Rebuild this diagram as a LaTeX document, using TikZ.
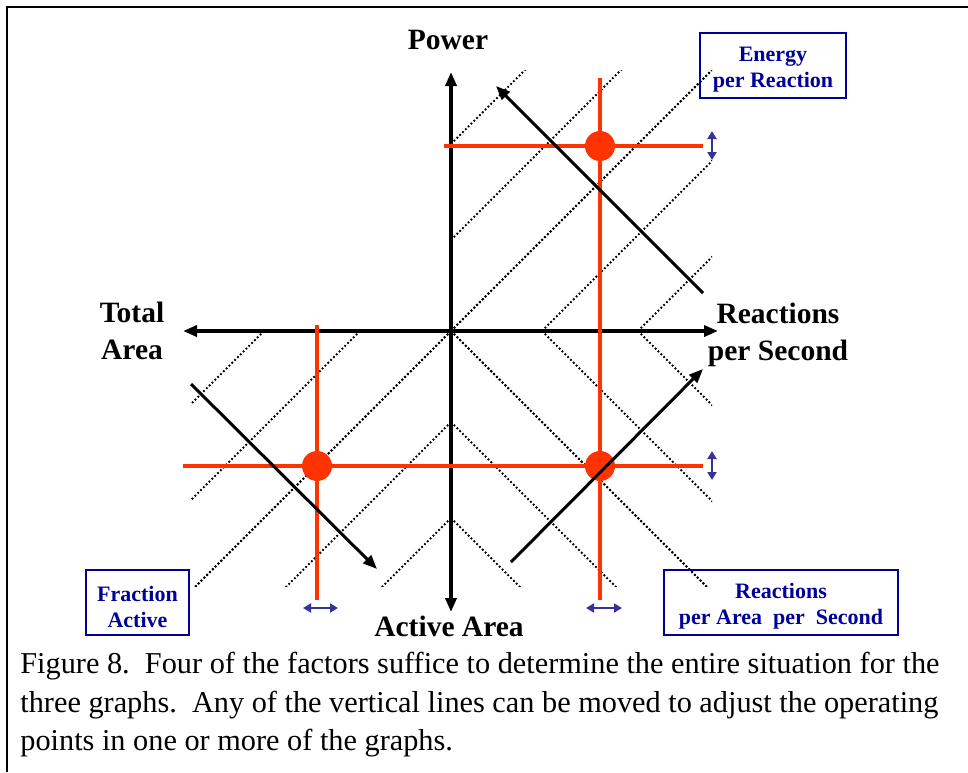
\documentclass[tikz,border=0pt]{standalone}
\usepackage{fontspec}
\setmainfont{Liberation Serif}
\usetikzlibrary{arrows.meta}
\definecolor{opred}{HTML}{FF3300}
\definecolor{boxblue}{HTML}{000099}
\definecolor{nudgeblue}{HTML}{333399}

\begin{document}
\begin{tikzpicture}
  [x=0.5pt, y=-0.5pt,
   axis/.style={line width=2pt, {Triangle[length=7pt,width=5.5pt]}-{Triangle[length=7pt,width=5.5pt]}},
   guide/.style={line width=0.9pt, dash pattern=on 0.9pt off 1.1pt},
   redline/.style={opred, line width=1.6pt},
   opdot/.style={circle, fill=opred, inner sep=0pt, minimum size=15pt},
   shiftarrow/.style={line width=1.5pt, -{Triangle[length=7pt,width=5.5pt]}},
   nudge/.style={nudgeblue, line width=1pt, {Triangle[length=4pt,width=4.5pt]}-{Triangle[length=4pt,width=4.5pt]}},
   axislabel/.style={font=\fontsize{14.75}{18.5}\selectfont\bfseries, align=center},
   factorbox/.style={draw=boxblue, line width=0.8pt, minimum height=32.5pt, inner sep=0pt},
   factortext/.style={text=boxblue, font=\fontsize{11}{13}\selectfont\bfseries, align=center, inner sep=0pt}]

  \useasboundingbox (0,0) rectangle (968,772);
  \draw[line width=1pt] (7,772) -- (7,7) -- (968,7);

  % dotted guides, one quadrant at a time
  \begin{scope}
    \clip (451,70) rectangle (712,331);
    \foreach \d in {0,91,187} {
      \draw[guide] (451+\d,331) -- ++(300,-300);
      \draw[guide] (451,331-\d) -- ++(300,-300);
    }
  \end{scope}
  \begin{scope}
    \clip (451,331) rectangle (712,586);
    \foreach \d in {0,91,187} {
      \draw[guide] (451+\d,331) -- ++(300,300);
      \draw[guide] (451,331+\d) -- ++(300,300);
    }
  \end{scope}
  \begin{scope}
    \clip (191,331) rectangle (451,586);
    \foreach \d in {0,91,187} {
      \draw[guide] (451-\d,331) -- ++(-300,300);
      \draw[guide] (451,331+\d) -- ++(-300,300);
    }
  \end{scope}

  % axes
  \coordinate (up) at (451,72);
  \coordinate (down) at (451,612);
  \coordinate (left) at (183,331);
  \coordinate (right) at (718,331);
  \draw[axis] (left) -- (right);
  \draw[axis] (down) -- (up);

  % operating lines
  \coordinate (rvtop) at (600,78);
  \coordinate (rvbot) at (600,600);
  \coordinate (lvtop) at (317,325);
  \coordinate (lvbot) at (317,600);
  \coordinate (uhl) at (444,146);
  \coordinate (uhr) at (703,146);
  \coordinate (lhl) at (183,466);
  \coordinate (lhr) at (703,466);
  \foreach \from/\to in {rvtop/rvbot,lvtop/lvbot,uhl/uhr,lhl/lhr}
    \draw[redline] (\from) -- (\to);

  \node[opdot] (ptop) at (600,146) {};
  \node[opdot] (pleft) at (317,466) {};
  \node[opdot] (pright) at (600,466) {};

  % black arrows
  \coordinate (s1) at (703,293);
  \coordinate (e1) at (496,86);
  \coordinate (s2) at (191,384);
  \coordinate (e2) at (377,569);
  \coordinate (s3) at (511,562);
  \coordinate (e3) at (703,369);
  \foreach \from/\to in {s1/e1,s2/e2,s3/e3}
    \draw[shiftarrow] (\from) -- (\to);

  % small blue arrows
  \coordinate (n1a) at (712,131);
  \coordinate (n1b) at (712,160);
  \coordinate (n2a) at (712,451);
  \coordinate (n2b) at (712,480);
  \coordinate (n3a) at (303,608);
  \coordinate (n3b) at (338,608);
  \coordinate (n4a) at (586,608);
  \coordinate (n4b) at (622,608);
  \foreach \from/\to in {n1a/n1b,n2a/n2b,n3a/n3b,n4a/n4b}
    \draw[nudge] (\from) -- (\to);

  \node[axislabel] (power) at (448,40) {Power};
  \node[axislabel] (total) at (132,331) {Total\\Area};
  \node[axislabel] (rps) at (778,335) {Reactions\\per Second};
  \node[axislabel] (active) at (449,626) {Active Area};

  \node[factorbox, minimum width=73pt] (epr) at (773,65.5) {};
  \node[factorbox, minimum width=51.5pt] (frac) at (137.5,602.5) {};
  \node[factorbox, minimum width=117pt] (rpas) at (781,602.5) {};
  \node[factortext] (eprtext) at ([yshift=-2pt]epr) {Energy\\per Reaction};
  \node[factortext] (fractext) at ([yshift=-2pt]frac) {Fraction\\Active};
  \node[factortext] (rpastext) at ([yshift=-2pt]rpas) {Reactions\\per Area\ \ per\ \ Second};

  \node[anchor=north west, inner sep=0pt, align=left, font=\fontsize{15.15}{19.25}\selectfont] (caption) at (20,652)
    {Figure 8.\ \ Four of the factors suffice to determine the entire situation for the\\
     three graphs.\ \ Any of the vertical lines can be moved to adjust the operating\\
     points in one or more of the graphs.};
\end{tikzpicture}
\end{document}
